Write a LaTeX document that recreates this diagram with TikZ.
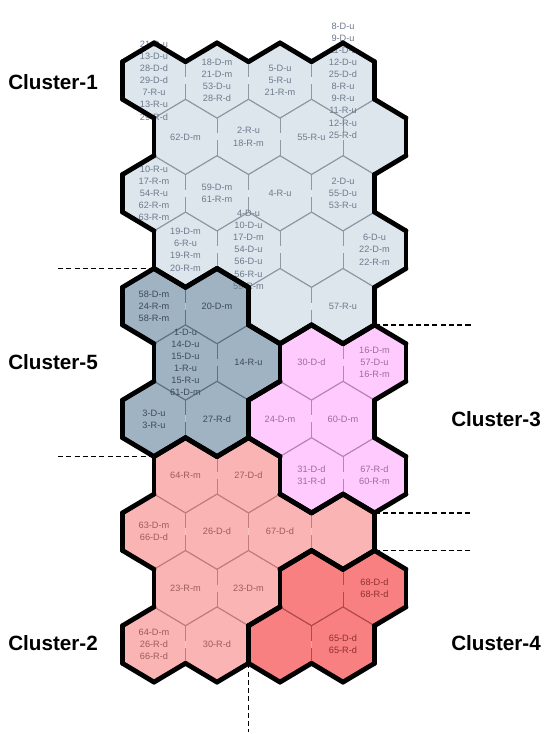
\documentclass[tikz,border=0pt]{standalone}
\usepackage{fontspec}
\setmainfont{Liberation Sans}
\definecolor{fill1}{HTML}{DCE6EC}
\definecolor{fill5}{HTML}{A0B3C3}
\definecolor{fill3}{HTML}{FFCBFF}
\definecolor{fill2}{HTML}{FBB4B4}
\definecolor{fill4}{HTML}{F88080}
\definecolor{line1}{HTML}{8E99A3}
\definecolor{line5}{HTML}{5F7282}
\definecolor{line3}{HTML}{B785B7}
\definecolor{line2}{HTML}{C27C7C}
\definecolor{line4}{HTML}{B24A4A}
\definecolor{txt1}{HTML}{6E7A8E}
\definecolor{txt5}{HTML}{3A4C5C}
\definecolor{txt3}{HTML}{9C6C9C}
\definecolor{txt2}{HTML}{9C5C5C}
\definecolor{txt4}{HTML}{8E3030}
\newcommand\defrow[5]{%
  \expandafter\gdef\csname cl-#1-0\endcsname{#2}%
  \expandafter\gdef\csname cl-#1-1\endcsname{#3}%
  \expandafter\gdef\csname cl-#1-2\endcsname{#4}%
  \expandafter\gdef\csname cl-#1-3\endcsname{#5}}
\defrow{0}{1}{1}{1}{1}
\defrow{1}{1}{1}{1}{1}
\defrow{2}{1}{1}{1}{1}
\defrow{3}{1}{1}{1}{1}
\defrow{4}{5}{5}{1}{1}
\defrow{5}{5}{5}{3}{3}
\defrow{6}{5}{5}{3}{3}
\defrow{7}{2}{2}{3}{3}
\defrow{8}{2}{2}{2}{2}
\defrow{9}{2}{2}{4}{4}
\defrow{10}{2}{2}{4}{4}
\newcommand\getcl[2]{\ifcsname cl-#1-#2\endcsname\csname cl-#1-#2\endcsname\else0\fi}
\newcommand\hexpos[2]{%
  \pgfmathtruncatemacro\hodd{mod(#1,2)}%
  \pgfmathsetmacro\X{154+63*#2+31.5*\hodd}%
  \pgfmathsetmacro\Y{80.5+56.4*#1}%
  \edef\hk{\getcl{#1}{#2}}}
\newcommand\bedge[4]{%
  \pgfmathtruncatemacro\hnr{#1}\pgfmathtruncatemacro\hnc{#2}%
  \edef\hnk{\getcl{\hnr}{\hnc}}%
  \ifnum\hk=\hnk\relax\else\draw[bnd] #3 -- #4;\fi}
\newcommand\hexlabel[3]{\hexpos{#1}{#2}\node[lbl,text=txt\hk] (h-#1-#2) at (\X,\Y) {#3};}
\begin{document}
\begin{tikzpicture}[x=0.75pt,y=-0.75pt,
  bnd/.style={line width=3.6pt,black,line cap=round,line join=round},
  thinedge/.style={line width=0.7pt},
  lbl/.style={font=\fontsize{6.9}{9.1}\selectfont,align=center,inner sep=0pt},
  clab/.style={font=\fontsize{15.5}{18}\selectfont\bfseries,inner sep=0pt,anchor=west},
  leader/.style={black,line width=1pt,dash pattern=on 3.8pt off 2.4pt}]
\fill[white] (0,0) rectangle (550,734);
\useasboundingbox (0,0) rectangle (550,734);
% fills
\foreach \r in {0,...,10}{\foreach \c in {0,...,3}{%
  \hexpos{\r}{\c}%
  \fill[fill\hk] (\X,\Y-37.6) -- (\X+31.5,\Y-18.8) -- (\X+31.5,\Y+18.8) -- (\X,\Y+37.6) -- (\X-31.5,\Y+18.8) -- (\X-31.5,\Y-18.8) -- cycle;
}}
% thin inner edges
\foreach \r in {0,...,10}{\foreach \c in {0,...,3}{%
  \hexpos{\r}{\c}%
  \draw[thinedge,line\hk] (\X-31.5,\Y-18.8) -- (\X,\Y-37.6) -- (\X+31.5,\Y-18.8);
  \draw[thinedge,line\hk] (\X+31.5,\Y+18.8) -- (\X,\Y+37.6) -- (\X-31.5,\Y+18.8);
  \draw[thinedge,line\hk] (\X+31.5,\Y-18.8) -- (\X+31.5,\Y-3.5) (\X+31.5,\Y+3.5) -- (\X+31.5,\Y+18.8);
  \draw[thinedge,line\hk] (\X-31.5,\Y-18.8) -- (\X-31.5,\Y-3.5) (\X-31.5,\Y+3.5) -- (\X-31.5,\Y+18.8);
}}
% labels
\hexlabel{0}{0}{21-D-u\\13-D-u\\28-D-d\\29-D-d\\7-R-u\\13-R-u\\29-R-d}
\hexlabel{0}{1}{18-D-m\\21-D-m\\53-D-u\\28-R-d}
\hexlabel{0}{2}{5-D-u\\5-R-u\\21-R-m}
\hexlabel{0}{3}{8-D-u\\9-D-u\\11-D-u\\12-D-u\\25-D-d\\8-R-u\\9-R-u\\11-R-u\\12-R-u\\25-R-d}
\hexlabel{1}{0}{62-D-m}
\hexlabel{1}{1}{2-R-u\\18-R-m}
\hexlabel{1}{2}{55-R-u}
\hexlabel{2}{0}{10-R-u\\17-R-m\\54-R-u\\62-R-m\\63-R-m}
\hexlabel{2}{1}{59-D-m\\61-R-m}
\hexlabel{2}{2}{4-R-u}
\hexlabel{2}{3}{2-D-u\\55-D-u\\53-R-u}
\hexlabel{3}{0}{19-D-m\\6-R-u\\19-R-m\\20-R-m}
\hexlabel{3}{1}{4-D-u\\10-D-u\\17-D-m\\54-D-u\\56-D-u\\56-R-u\\59-R-m}
\hexlabel{3}{3}{6-D-u\\22-D-m\\22-R-m}
\hexlabel{4}{0}{58-D-m\\24-R-m\\58-R-m}
\hexlabel{4}{1}{20-D-m}
\hexlabel{4}{3}{57-R-u}
\hexlabel{5}{0}{1-D-u\\14-D-u\\15-D-u\\1-R-u\\15-R-u\\61-D-m}
\hexlabel{5}{1}{14-R-u}
\hexlabel{5}{2}{30-D-d}
\hexlabel{5}{3}{16-D-m\\57-D-u\\16-R-m}
\hexlabel{6}{0}{3-D-u\\3-R-u}
\hexlabel{6}{1}{27-R-d}
\hexlabel{6}{2}{24-D-m}
\hexlabel{6}{3}{60-D-m}
\hexlabel{7}{0}{64-R-m}
\hexlabel{7}{1}{27-D-d}
\hexlabel{7}{2}{31-D-d\\31-R-d}
\hexlabel{7}{3}{67-R-d\\60-R-m}
\hexlabel{8}{0}{63-D-m\\66-D-d}
\hexlabel{8}{1}{26-D-d}
\hexlabel{8}{2}{67-D-d}
\hexlabel{9}{0}{23-R-m}
\hexlabel{9}{1}{23-D-m}
\hexlabel{9}{3}{68-D-d\\68-R-d}
\hexlabel{10}{0}{64-D-m\\26-R-d\\66-R-d}
\hexlabel{10}{1}{30-R-d}
\hexlabel{10}{3}{65-D-d\\65-R-d}
% thick cluster borders
\foreach \r in {0,...,10}{\foreach \c in {0,...,3}{%
  \hexpos{\r}{\c}%
  \pgfmathtruncatemacro\hru{\r-1}\pgfmathtruncatemacro\hrd{\r+1}%
  \pgfmathtruncatemacro\hcr{\c+\hodd}\pgfmathtruncatemacro\hcl{\c-1+\hodd}%
  \pgfmathtruncatemacro\hce{\c+1}\pgfmathtruncatemacro\hcw{\c-1}%
  \bedge{\hru}{\hcr}{(\X,\Y-37.6)}{(\X+31.5,\Y-18.8)}%
  \bedge{\r}{\hce}{(\X+31.5,\Y-18.8)}{(\X+31.5,\Y+18.8)}%
  \bedge{\hrd}{\hcr}{(\X+31.5,\Y+18.8)}{(\X,\Y+37.6)}%
  \bedge{\hrd}{\hcl}{(\X,\Y+37.6)}{(\X-31.5,\Y+18.8)}%
  \bedge{\r}{\hcw}{(\X-31.5,\Y+18.8)}{(\X-31.5,\Y-18.8)}%
  \bedge{\hru}{\hcl}{(\X-31.5,\Y-18.8)}{(\X,\Y-37.6)}%
}}
% leader lines
\coordinate (d1a) at (58,268.5);   \coordinate (d1b) at (154,268.5);
\coordinate (d2a) at (374.5,324.9); \coordinate (d2b) at (472,324.9);
\coordinate (d3a) at (58,456.5);   \coordinate (d3b) at (154,456.5);
\coordinate (d4a) at (374.5,512.9); \coordinate (d4b) at (470,512.9);
\coordinate (d5a) at (374.5,550.5); \coordinate (d5b) at (470,550.5);
\coordinate (d6a) at (248.5,663.3); \coordinate (d6b) at (248.5,732);
\draw[leader] (d1a) -- (d1b);
\draw[leader] (d2a) -- (d2b);
\draw[leader] (d3a) -- (d3b);
\draw[leader] (d4a) -- (d4b);
\draw[leader] (d5a) -- (d5b);
\draw[leader] (d6a) -- (d6b);
% cluster names
\node[clab] (c1) at (8,82) {Cluster-1};
\node[clab] (c5) at (8,362) {Cluster-5};
\node[clab] (c3) at (451,419) {Cluster-3};
\node[clab] (c2) at (8,643) {Cluster-2};
\node[clab] (c4) at (451,643) {Cluster-4};
\end{tikzpicture}
\end{document}
